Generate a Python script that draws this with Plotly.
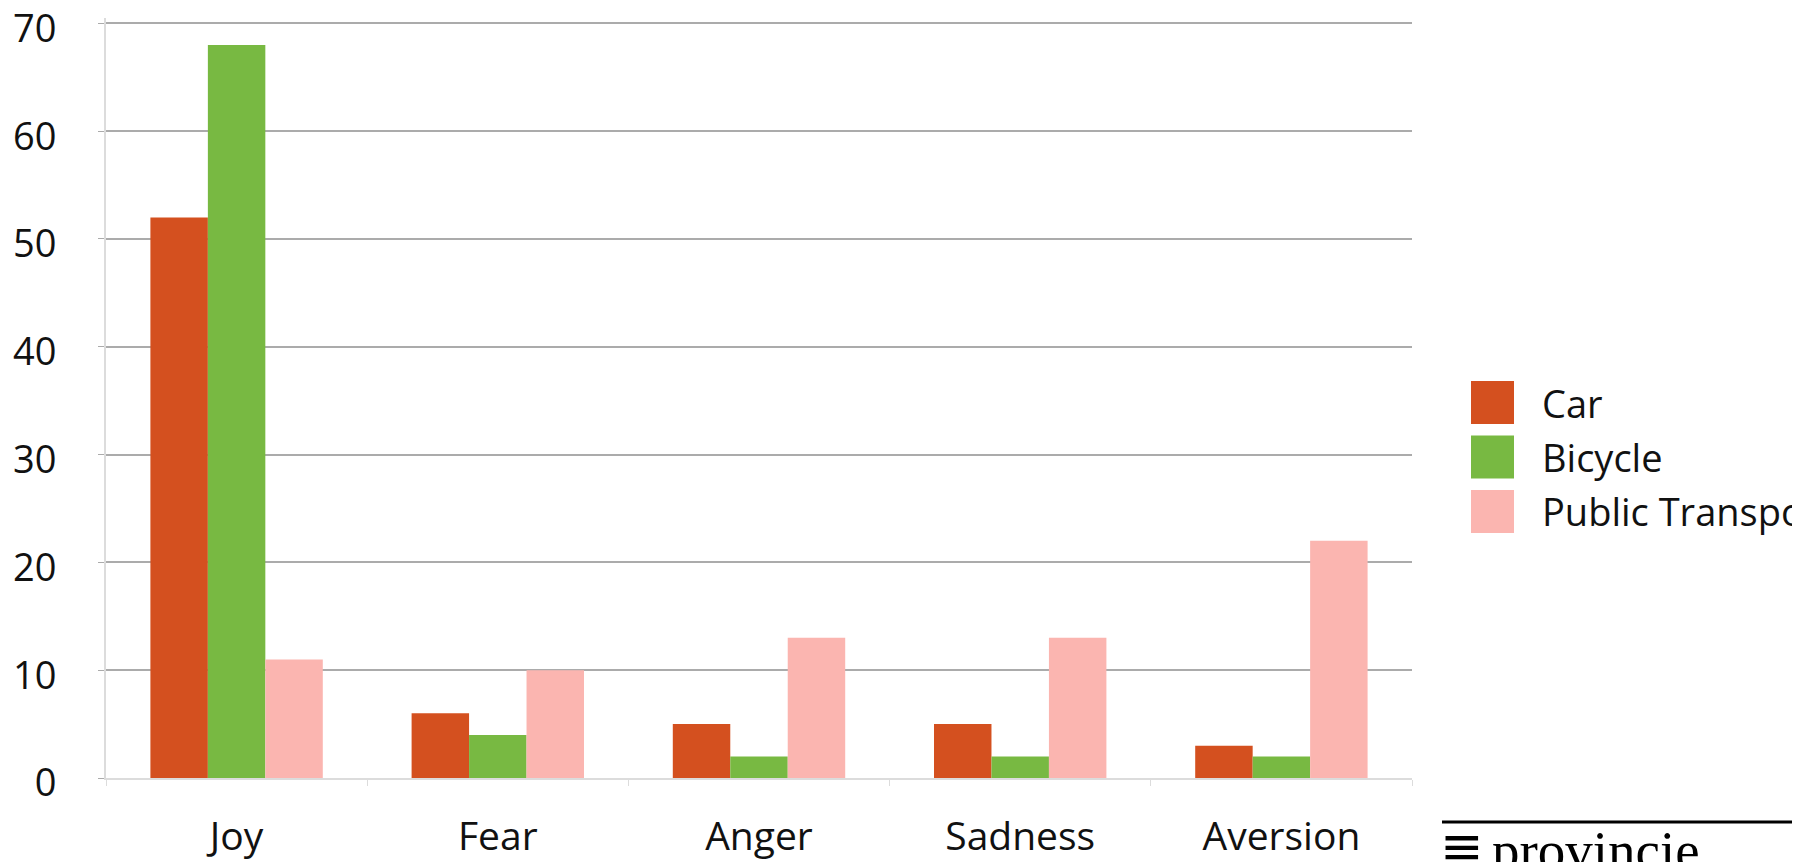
import plotly.graph_objects as go


EMOTIONS = ["Joy", "Fear", "Anger", "Sadness", "Aversion"]

CAR = [52, 6, 5, 5, 3]
BICYCLE = [68, 4, 2, 2, 2]
PUBLIC_TRANSPORT = [11, 10, 13, 13, 22]

SERIES = ["Car", "Bicycle", "Public Transport"]
COLORS = ["#D4501F", "#78B942", "#FBB5B0"]

Y_TICKS = [0, 10, 20, 30, 40, 50, 60, 70]

FONT = "Open Sans"

# the page body adds an 8px offset, so the figure is 8px smaller
# paper helpers map reference pixels onto the plot area
PLOT_W = 1306
PLOT_H = 760


def px_x(p):
    return (p - 106) / PLOT_W


def px_y(p):
    return (778 - p) / PLOT_H


fig = go.Figure()

for name, values, color in zip(SERIES, [CAR, BICYCLE, PUBLIC_TRANSPORT], COLORS):
    fig.add_trace(go.Bar(
        x=EMOTIONS,
        y=values,
        name=name,
        marker=dict(color=color, line=dict(width=0)),
        showlegend=False
    ))

# legend drawn by hand so the swatches can be as large as in the original
for i, (name, color) in enumerate(zip(SERIES, COLORS)):
    top = 381 + i * 54.5
    fig.add_shape(
        type="rect",
        xref="paper", yref="paper",
        x0=px_x(1471), x1=px_x(1514),
        y0=px_y(top), y1=px_y(top + 43),
        fillcolor=color, line=dict(width=0)
    )
    fig.add_annotation(
        text=name,
        xref="paper", yref="paper",
        x=px_x(1540), y=px_y(top + 21.5),
        xanchor="left", yanchor="middle",
        showarrow=False,
        font=dict(family=FONT, size=38, color="#111111")
    )

# cut-off page footer under the chart
fig.add_shape(
    type="line",
    xref="paper", yref="paper",
    x0=px_x(1442), x1=px_x(1810),
    y0=px_y(822), y1=px_y(822),
    line=dict(color="black", width=3)
)
fig.add_annotation(
    text="≡",
    xref="paper", yref="paper",
    x=px_x(1438), y=px_y(814),
    xanchor="left", yanchor="top",
    showarrow=False,
    font=dict(family="DejaVu Sans", size=52, color="black")
)
fig.add_annotation(
    text="provincie",
    xref="paper", yref="paper",
    x=px_x(1490), y=px_y(818),
    xanchor="left", yanchor="top",
    showarrow=False,
    font=dict(family="Liberation Serif", size=55, color="black")
)

fig.update_layout(
    width=1792,
    height=854,
    margin=dict(l=98, r=388, t=10, b=84),
    plot_bgcolor="white",
    paper_bgcolor="white",
    barmode="group",
    bargap=0.34,
    bargroupgap=0,
    font=dict(family=FONT, size=38, color="#111111")
)

fig.update_xaxes(
    automargin=False,
    showline=True,
    linecolor="#DCDCDC",
    linewidth=2,
    ticks="outside",
    tickson="boundaries",
    ticklen=6,
    tickcolor="#DCDCDC",
    ticklabelstandoff=23,
    ticklabeloverflow="allow",
    tickfont=dict(family=FONT, size=39, color="#111111")
)

fig.update_yaxes(
    automargin=False,
    range=[0, 70.5],
    tickvals=Y_TICKS,
    showgrid=True,
    gridcolor="#ABABAB",
    gridwidth=2,
    zeroline=False,
    showline=True,
    linecolor="#DCDCDC",
    linewidth=2,
    ticks="outside",
    ticklen=6,
    tickcolor="#ABABAB",
    ticklabelstandoff=34,
    ticklabelshift=5,
    ticklabeloverflow="allow",
    tickfont=dict(family=FONT, size=38, color="#111111")
)

fig.write_html("out.html")
